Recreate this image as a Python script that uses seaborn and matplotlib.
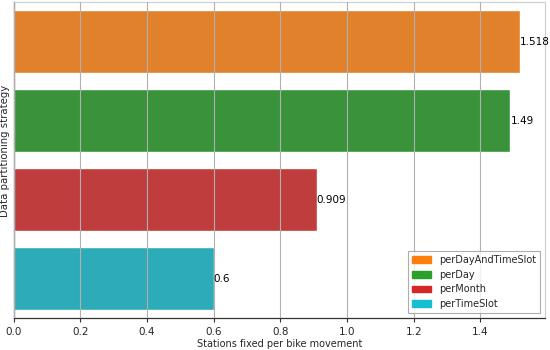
import matplotlib
matplotlib.use("Agg")
import matplotlib.pyplot as plt
import matplotlib.patches as mpatches
import seaborn as sns
import pandas as pd

strategies = ["perDayAndTimeSlot", "perDay", "perMonth", "perTimeSlot"]
values = [1.518, 1.49, 0.909, 0.6]
colors = ["#ff7f0e", "#2ca02c", "#d62728", "#17becf"]

df = pd.DataFrame({"strategy": strategies, "value": values})

sns.set_style("white")
plt.rcParams["font.family"] = ["DejaVu Sans"]

fig, ax = plt.subplots(figsize=(5.5, 3.5), dpi=100)
fig.subplots_adjust(left=0.025, right=0.991, top=0.994, bottom=0.0914)

sns.barplot(data=df, x="value", y="strategy", hue="strategy", palette=colors,
            saturation=0.75, legend=False, ax=ax, orient="h")

for c in ax.containers:
    ax.bar_label(c, fontsize=7.5, color="black", padding=0)

ax.set_xlim(0, 1.518 * 1.05)
ax.set_yticks([])
ax.set_ylabel("Data partitioning strategy", fontsize=7.3)
ax.yaxis.set_label_coords(-0.007, 0.528)
ax.set_xlabel("Stations fixed per bike movement", fontsize=7)
ax.xaxis.set_label_coords(0.5, -0.066)
ax.tick_params(axis="x", labelsize=7.5, length=3, width=0.8, color="#333333", pad=3.5, bottom=True)
ax.xaxis.grid(True, color="#b0b0b0", linewidth=0.8)
ax.set_axisbelow(False)

for s in ["left", "bottom"]:
    ax.spines[s].set_color("#333333")
    ax.spines[s].set_linewidth(0.9)
for s in ["top", "right"]:
    ax.spines[s].set_color("#cccccc")
    ax.spines[s].set_linewidth(0.8)

handles = [mpatches.Patch(color=c, label=l) for c, l in zip(colors, strategies)]
leg = ax.legend(handles=handles, loc="lower right", fontsize=7, frameon=True,
                fancybox=False, edgecolor="#999999", handlelength=2, handleheight=0.7)
leg.get_frame().set_linewidth(0.8)

fig.savefig("out.png", dpi=100)
